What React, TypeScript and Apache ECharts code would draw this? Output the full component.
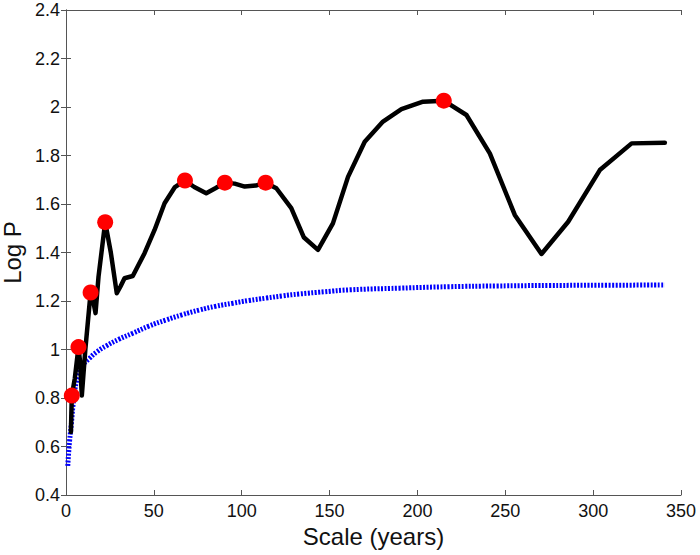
import React, { useEffect, useRef } from "react";
import * as echarts from "echarts";

// Black curve (Log P vs scale)
const blackX = [2.8, 3.3, 5.0, 7.1, 8.0, 9.0, 11.0, 14.0, 15.5, 16.8, 18.5, 22.3, 25.5, 28.9, 31.0, 33.3, 38.0, 44.7, 50.4, 56.1, 62.0, 67.7, 73.0, 79.8, 85.0, 90.4, 96.0, 101.7, 108.0, 113.6, 119.7, 128.2, 135.3, 143.4, 151.9, 160.5, 170.0, 180.4, 190.9, 203.2, 215.0, 227.9, 241.2, 255.4, 270.6, 285.8, 303.8, 321.9, 340.8];
const blackY = [0.66, 0.81, 0.88, 1.01, 0.95, 0.81, 1.00, 1.235, 1.20, 1.15, 1.30, 1.525, 1.40, 1.232, 1.26, 1.294, 1.303, 1.397, 1.493, 1.603, 1.670, 1.697, 1.670, 1.644, 1.665, 1.688, 1.684, 1.672, 1.676, 1.688, 1.665, 1.583, 1.463, 1.411, 1.520, 1.712, 1.857, 1.940, 1.991, 2.022, 2.026, 1.967, 1.809, 1.555, 1.394, 1.527, 1.740, 1.850, 1.853];

// Red marker points
const redX = [3.3, 7.1, 14.0, 22.3, 67.7, 90.4, 113.6, 215.0];
const redY = [0.81, 1.01, 1.235, 1.525, 1.697, 1.688, 1.688, 2.026];

// Blue dotted curve
const blueX = [1.0, 2.0, 3.0, 4.5, 6.7, 9.5, 13.4, 17.5, 22.9, 30.0, 38.0, 47.0, 57.0, 66.0, 76.0, 85.0, 95.0, 104.0, 114.0, 123.0, 133.0, 147.0, 161.4, 190.0, 218.1, 245.0, 275.0, 308.0, 340.8];
const blueY = [0.52, 0.62, 0.69, 0.80, 0.89, 0.935, 0.964, 0.99, 1.015, 1.042, 1.067, 1.096, 1.122, 1.143, 1.163, 1.178, 1.191, 1.202, 1.212, 1.221, 1.229, 1.238, 1.246, 1.253, 1.259, 1.262, 1.264, 1.265, 1.266];

const xTicks = { min: 0, max: 350, interval: 50 };
const yTicks = { min: 0.4, max: 2.4, interval: 0.2 };

const zip = (xs: number[], ys: number[]) => xs.map((x, i) => [x, ys[i]]);

export default function App() {
  const ref = useRef<HTMLDivElement>(null);
  useEffect(() => {
    if (!ref.current) return;
    const chart = echarts.init(ref.current, undefined, { renderer: "svg" });
    const axisLine = { show: true, lineStyle: { color: "#555", width: 1 } };
    const font = "Liberation Sans, Arial, sans-serif";
    chart.setOption({
      animation: false,
      backgroundColor: "#fff",
      grid: { left: 66, right: 19, top: 10, bottom: 60, containLabel: false, outerBoundsMode: "none" },
      xAxis: [
        {
          type: "value",
          ...xTicks,
          position: "bottom",
          name: "Scale (years)",
          nameLocation: "middle",
          nameGap: 27,
          nameTextStyle: { fontSize: 24, color: "#111", fontFamily: font },
          axisLine,
          axisTick: { show: true, inside: true, length: 5, lineStyle: { color: "#555" } },
          axisLabel: { fontSize: 18, color: "#111", fontFamily: font, margin: 7 },
          splitLine: { show: false },
        },
        {
          type: "value",
          ...xTicks,
          position: "top",
          axisLine,
          axisTick: { show: true, inside: true, length: 5, lineStyle: { color: "#555" } },
          axisLabel: { show: false },
          splitLine: { show: false },
        },
      ],
      yAxis: [
        {
          type: "value",
          ...yTicks,
          position: "left",
          name: "Log P",
          nameLocation: "middle",
          nameRotate: 90,
          nameGap: 36,
          nameTextStyle: { fontSize: 24, color: "#111", fontFamily: font },
          axisLine,
          axisTick: { show: true, inside: true, length: 5, lineStyle: { color: "#555" } },
          axisLabel: { fontSize: 18, color: "#111", fontFamily: font, margin: 6, formatter: (v: number) => String(Math.round(v * 10) / 10) },
          splitLine: { show: false },
        },
        {
          type: "value",
          ...yTicks,
          position: "right",
          axisLine,
          axisTick: { show: true, inside: true, length: 5, lineStyle: { color: "#555" } },
          axisLabel: { show: false },
          splitLine: { show: false },
        },
      ],
      series: [
        {
          type: "line",
          data: zip(blueX, blueY),
          smooth: true,
          showSymbol: false,
          lineStyle: { color: "#0000ff", width: 5, type: [2, 1.5] },
          z: 2,
        },
        {
          type: "line",
          data: zip(blackX, blackY),
          showSymbol: false,
          lineStyle: { color: "#000", width: 4.5, join: "round", cap: "round" },
          z: 3,
        },
        {
          type: "scatter",
          data: zip(redX, redY),
          symbol: "circle",
          symbolSize: 16,
          itemStyle: { color: "#ff0000", opacity: 1 },
          z: 4,
        },
      ],
    });
    return () => chart.dispose();
  }, []);
  return <div ref={ref} style={{ position: "absolute", left: 0, top: 0, width: 700, height: 555 }} />;
}
